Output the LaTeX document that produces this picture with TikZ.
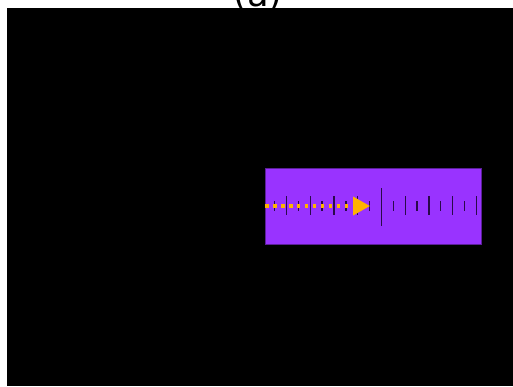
\documentclass[tikz,border=0pt]{standalone}
\usepackage{fontspec}
\setmainfont{DejaVu Sans}
\usetikzlibrary{arrows.meta}
\definecolor{stripviolet}{HTML}{9933FF}
\definecolor{tickdark}{HTML}{2A0A4A}
\definecolor{arrowgold}{HTML}{FFB300}

\begin{document}
\begin{tikzpicture}[
  x=0.02cm, y=-0.02cm,
  panel/.style={fill=black, draw=none},
  strip/.style={fill=stripviolet, draw=stripviolet!60!black, line width=0.4pt,
                minimum width=216*0.02cm, minimum height=76*0.02cm, inner sep=0pt},
  tickmark/.style={draw=tickdark, line width=0.75pt},
  flow/.style={draw=arrowgold, line width=2pt, dash pattern=on 2pt off 2.55pt,
               -{Triangle[length=9.6pt, width=10.2pt]}},
]
\useasboundingbox (0,0) rectangle (513,386);

% ---------- title ----------
\node[font=\fontsize{20}{24}\selectfont, anchor=base, inner sep=0pt] (title) at (258,6.5) {(a)};

% ---------- panel ----------
\fill[panel] (7,8) rectangle (513,386);

% ---------- strip ----------
\node[strip, anchor=north west] (strip) at (265,168) {};

% ---------- ticks ----------
\foreach \i in {0,...,17} {
  \pgfmathsetmacro{\tx}{274.7+11.86*\i}
  \ifodd\i
    \draw[tickmark] (\tx,196) -- (\tx,215);
  \else
    \draw[tickmark] (\tx,201) -- (\tx,211);
  \fi
}
\draw[tickmark] (381.4,188) -- (381.4,226);

% ---------- arrow ----------
\coordinate (start) at (strip.west |- 0,206);
\coordinate (tip) at (370,206);
\draw[flow] (start) -- (tip);

\end{tikzpicture}
\end{document}
